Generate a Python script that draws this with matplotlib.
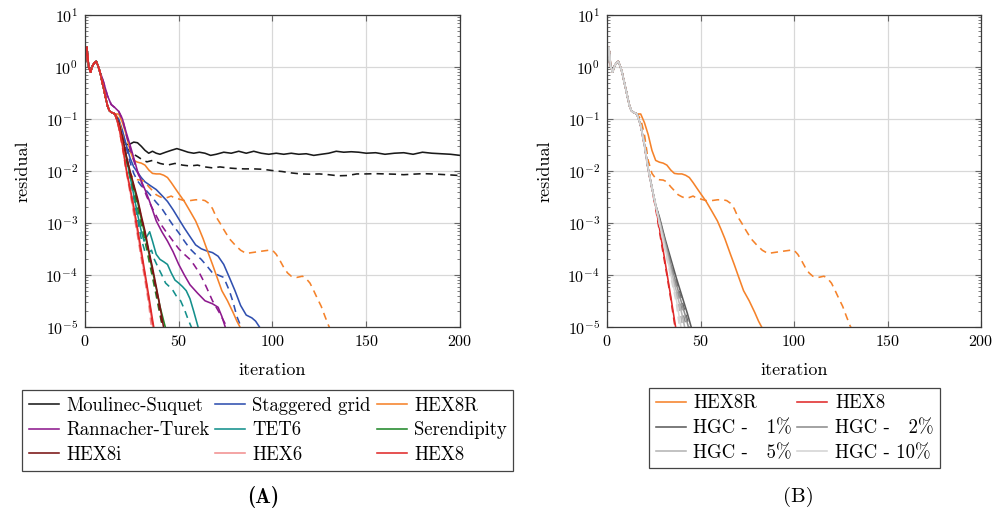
import matplotlib
matplotlib.use("Agg")
import matplotlib.pyplot as plt
from matplotlib.ticker import LogLocator, NullFormatter

plt.rcParams.update({
    "font.family": ["cmr10", "DejaVu Serif"],
    "mathtext.fontset": "cm",
    "axes.formatter.use_mathtext": True,
    "axes.unicode_minus": False,
})

# shared start of every run (iterations 0..16)
COMMON_IT = [0, 1, 2, 3, 4, 5, 6, 7, 8, 9, 10, 11, 12, 13, 14, 15, 16]
COMMON_RES = [1.1, 2.4, 1.0, 0.8, 1.05, 1.2, 1.28, 1.05, 0.8, 0.55, 0.38, 0.26, 0.18,
              0.145, 0.135, 0.13, 0.125]

# Moulinec-Suquet
MS_IT = [18, 20, 22, 24, 26, 28, 30, 32, 34, 36, 38, 40, 43, 46, 49, 52, 55, 58, 61, 64,
         67, 70, 74, 78, 82, 86, 90, 94, 98, 102, 106, 110, 114, 118, 122, 126, 130, 134,
         138, 142, 146, 150, 155, 160, 165, 170, 175, 180, 185, 190, 195, 200]
MS_RES = [0.075, 0.045, 0.032, 0.033, 0.036, 0.035, 0.030, 0.025, 0.022, 0.024,
          0.022, 0.021, 0.023, 0.025, 0.027, 0.025, 0.023, 0.022, 0.023, 0.022,
          0.020, 0.021, 0.023, 0.022, 0.024, 0.022, 0.024, 0.022, 0.021, 0.022,
          0.021, 0.022, 0.021, 0.0215, 0.020, 0.021, 0.022, 0.024, 0.023, 0.0235,
          0.023, 0.022, 0.0225, 0.021, 0.022, 0.0225, 0.021, 0.023, 0.022, 0.0215,
          0.021, 0.020]
MSD_IT = [18, 20, 22, 24, 26, 28, 30, 33, 36, 40, 44, 48, 52, 56, 60, 64, 68, 72, 76, 80,
          85, 90, 95, 100, 105, 110, 115, 120, 125, 130, 135, 140, 145, 150, 155, 160,
          165, 170, 175, 180, 185, 190, 195, 200]
MSD_RES = [0.07, 0.04, 0.028, 0.024, 0.021, 0.019, 0.017, 0.015, 0.016, 0.014,
           0.013, 0.014, 0.013, 0.0125, 0.013, 0.012, 0.0115, 0.012, 0.0115, 0.0112,
           0.011, 0.011, 0.0108, 0.0102, 0.0098, 0.0092, 0.0088, 0.0087, 0.0088, 0.0085,
           0.0081, 0.0082, 0.0088, 0.0088, 0.0089, 0.0088, 0.0087, 0.0085, 0.0087, 0.0089,
           0.0088, 0.0086, 0.0084, 0.0082]

# Staggered grid
SG_IT = [18, 20, 22, 24, 26, 28, 30, 32, 35, 38, 41, 44, 47, 50, 53, 56, 59, 62, 65, 68,
         71, 74, 77, 80, 83, 86, 89, 91, 93.5]
SG_RES = [0.1, 0.06, 0.032, 0.018, 0.012, 0.0095, 0.0075, 0.0062, 0.0052, 0.0044,
          0.0034, 0.0026, 0.0018, 0.0012, 0.0008, 0.00055, 0.00038, 0.00032, 0.00029, 0.00027,
          0.00023, 0.00016, 0.00009, 0.00005, 0.000026, 0.000017, 0.000015, 0.000013, 0.0000095]
SGD_IT = [18, 20, 22, 24, 26, 28, 30, 32, 35, 38, 41, 44, 47, 50, 53, 56, 59, 62, 65, 68,
          71, 74, 77, 79, 81, 83.5]
SGD_RES = [0.09, 0.055, 0.028, 0.015, 0.009, 0.0065, 0.0052, 0.0045, 0.0034, 0.0025,
           0.0019, 0.0013, 0.0009, 0.00065, 0.00045, 0.00032, 0.00025, 0.0002, 0.00015, 0.00011,
           0.0001, 0.00009, 0.00005, 0.00003, 0.000016, 0.0000095]

# HEX8R
R_IT = [18, 20, 22, 24, 26, 28, 30, 32, 34, 36, 38, 40, 42, 44, 46, 48, 50, 53, 56, 59,
        61, 63, 66, 68, 70, 73, 76, 79, 81, 83]
R_RES = [0.125, 0.085, 0.05, 0.025, 0.016, 0.0148, 0.0142, 0.013, 0.0105, 0.009,
         0.0088, 0.0088, 0.0083, 0.0075, 0.006, 0.0047, 0.0037, 0.0026, 0.0017, 0.0011,
         0.00075, 0.0005, 0.00025, 0.00016, 0.0001, 0.00005, 0.000032, 0.000019, 0.000013,
         0.0000095]
RD_IT = [18, 20, 22, 24, 26, 28, 30, 32, 34, 36, 38, 40, 42, 44, 46, 48, 50, 53, 56, 59,
         62, 64, 66, 68, 70, 72, 74, 77, 80, 83, 86, 89, 92, 95, 98, 100, 102, 104, 106, 108,
         110, 113, 116, 118, 120, 122, 124, 126, 128, 130, 131]
RD_RES = [0.1, 0.05, 0.016, 0.009, 0.0072, 0.0068, 0.0067, 0.0062, 0.005, 0.0042,
          0.0035, 0.0032, 0.003, 0.0031, 0.0033, 0.003, 0.0029, 0.0027, 0.0027, 0.0028,
          0.0028, 0.0027, 0.0024, 0.0019, 0.0013, 0.001, 0.00075, 0.0005, 0.00038, 0.0003,
          0.00026, 0.00027, 0.00028, 0.00029, 0.0003, 0.0003, 0.00025, 0.00019, 0.00014, 0.00011,
          0.000095, 0.00009, 0.000095, 0.000085, 0.00007, 0.00005, 0.000035, 0.000025, 0.000016,
          0.0000105, 0.000009]

# Rannacher-Turek (leaves the bundle early, from iteration 9)
RT_IT = [9, 10, 12, 14, 16, 18, 20, 22, 24, 26, 28, 30, 32, 34, 36, 38, 41, 44, 47, 50,
         53, 56, 60, 64, 68, 71, 73, 75]
RT_RES = [0.65, 0.5, 0.28, 0.19, 0.165, 0.14, 0.1, 0.055, 0.032, 0.018,
          0.01, 0.0065, 0.0044, 0.0029, 0.0018, 0.0011, 0.00068, 0.00045, 0.00028, 0.00016,
          0.0001, 0.000065, 0.000045, 0.000032, 0.000028, 0.000024, 0.000016, 0.0000095]
RTD_IT = [22, 24, 26, 28, 30, 33, 36, 40, 43, 46, 50, 53, 56, 58, 61, 63, 65, 68, 72, 76]
RTD_RES = [0.05, 0.028, 0.016, 0.0095, 0.0062, 0.0032, 0.0019, 0.001, 0.0007, 0.0005,
           0.00032, 0.00025, 0.0002, 0.00016, 0.00011, 0.00008, 0.000056, 0.000032,
           0.000018, 0.0000095]

# TET6
T_IT = [18, 20, 22, 24, 26, 28, 30, 31.5, 33, 34.5, 36, 38, 40, 42, 44, 46, 48, 50, 52, 54,
        56, 58, 60.5]
T_RES = [0.08, 0.04, 0.018, 0.008, 0.0035, 0.0015, 0.0007, 0.00045, 0.00055, 0.00068,
         0.00045, 0.00025, 0.0002, 0.00018, 0.00016, 0.00011, 0.00008, 0.00007, 0.00006,
         0.00005, 0.000035, 0.00002, 0.0000095]
TD_IT = [18, 20, 22, 24, 26, 28, 30, 32, 34, 35.5, 37, 39, 41, 43, 45, 47, 49, 51, 53, 55, 57]
TD_RES = [0.08, 0.04, 0.017, 0.0075, 0.003, 0.0012, 0.0005, 0.00028, 0.00027, 0.0003,
          0.0002, 0.00014, 0.0001, 0.00007, 0.00006, 0.00005, 0.000038, 0.000032, 0.000022,
          0.000014, 0.0000095]

# Serendipity
S_IT = [18, 20, 22, 24, 26, 28, 30, 32, 34, 36, 38, 40, 42, 43]
S_RES = [0.08, 0.042, 0.019, 0.0095, 0.005, 0.0026, 0.0012, 0.0006, 0.00027, 0.00012,
         0.000055, 0.000025, 0.000013, 0.0000095]
SD_IT = [18, 20, 22, 24, 26, 28, 30, 32, 34, 36, 38, 40, 41.5]
SD_RES = [0.078, 0.04, 0.017, 0.0085, 0.0042, 0.002, 0.00095, 0.00045, 0.0002, 0.00009,
          0.00004, 0.000017, 0.0000095]

# HEX8i
I_IT = [18, 20, 22, 24, 26, 28, 30, 32, 34, 36, 38, 40, 42]
I_RES = [0.085, 0.045, 0.02, 0.01, 0.0055, 0.003, 0.0014, 0.0007, 0.0003, 0.00014,
         0.00006, 0.000025, 0.0000095]
ID_IT = [18, 20, 22, 24, 26, 28, 30, 32, 34, 36, 38, 40, 41.5]
ID_RES = [0.083, 0.043, 0.019, 0.0095, 0.005, 0.0027, 0.0013, 0.00062, 0.00027, 0.00012,
          0.00005, 0.00002, 0.0000095]

# HEX6
H6_IT = [18, 20, 22, 24, 26, 28, 30, 32, 34, 36, 36.5]
H6_RES = [0.07, 0.03, 0.0105, 0.0042, 0.0017, 0.00065, 0.00024, 0.00009, 0.000032,
          0.000011, 0.0000085]
H6D_IT = [18, 20, 22, 24, 26, 28, 30, 32, 34, 35.5]
H6D_RES = [0.068, 0.028, 0.0098, 0.0039, 0.0015, 0.00058, 0.00021, 0.000078, 0.000028,
           0.0000095]

# HEX8
H8_IT = [18, 20, 22, 24, 26, 28, 30, 32, 34, 36, 37]
H8_RES = [0.075, 0.032, 0.011, 0.0048, 0.0021, 0.0008, 0.0003, 0.00011, 0.00004,
          0.000014, 0.0000085]
H8D_IT = [18, 20, 22, 24, 26, 28, 30, 32, 34, 36, 36.5]
H8D_RES = [0.072, 0.03, 0.0105, 0.0045, 0.0019, 0.0007, 0.00026, 0.0001, 0.000036,
           0.000012, 0.0000095]

# HGC runs follow HEX8 until iteration 26, then fan out
HGC_HEAD_IT = [18, 20, 22, 24, 26]
HGC_HEAD_RES = [0.075, 0.032, 0.011, 0.0048, 0.0022]
HGC1_IT = [28, 31, 34, 37, 40, 43, 45]
HGC1_RES = [1.3e-3, 5e-4, 2.1e-4, 8.9e-5, 4e-5, 1.8e-5, 1e-5]
HGC1D_IT = [28, 31, 34, 37, 40, 42, 44]
HGC1D_RES = [1.2e-3, 4.6e-4, 1.8e-4, 7.5e-5, 3.2e-5, 1.8e-5, 1e-5]
HGC2_IT = [28, 31, 34, 37, 40, 42, 43.5]
HGC2_RES = [1.2e-3, 4.4e-4, 1.7e-4, 6.8e-5, 2.8e-5, 1.6e-5, 1e-5]
HGC2D_IT = [28, 31, 34, 37, 40, 42.5]
HGC2D_RES = [1.15e-3, 4.1e-4, 1.5e-4, 5.8e-5, 2.2e-5, 1e-5]
HGC5_IT = [28, 31, 34, 37, 40, 41.5]
HGC5_RES = [1.1e-3, 3.9e-4, 1.35e-4, 5e-5, 1.8e-5, 1e-5]
HGC5D_IT = [28, 31, 34, 37, 39, 40.5]
HGC5D_RES = [1.05e-3, 3.6e-4, 1.2e-4, 4.2e-5, 2e-5, 1e-5]
HGC10_IT = [28, 31, 34, 37, 39.5]
HGC10_RES = [1.0e-3, 3.3e-4, 1.1e-4, 3.5e-5, 1e-5]
HGC10D_IT = [28, 31, 34, 37, 38.7]
HGC10D_RES = [9.5e-4, 3.0e-4, 9.5e-5, 3e-5, 1e-5]

C_MS, C_SG, C_R = "#1a1a1a", "#3050b0", "#f5822a"
C_RT, C_T, C_S = "#8e1a8e", "#14908c", "#22882a"
C_I, C_H6, C_H8 = "#7a1414", "#f29090", "#e02a2a"
C_HGC = {"1": "#5c5c5c", "2": "#8e8e8e", "5": "#b4b4b4", "10": "#d4d4d4"}
DASH = (0, (4.5, 3.2))
LW = 1.15


def trace(it, res, head_it=COMMON_IT, head_res=COMMON_RES):
    return list(head_it) + list(it), list(head_res) + list(res)


def draw(ax, it, res, color, dashed=False, label=None, **kw):
    (ln,) = ax.plot(it, res, color=color, lw=LW, ls=DASH if dashed else "-",
                    label=label, **kw)
    return ln


def style(ax):
    ax.set_yscale("log")
    ax.set_xlim(0, 200)
    ax.set_ylim(1e-5, 1e1)
    ax.set_xticks([0, 50, 100, 150, 200])
    ax.yaxis.set_major_locator(LogLocator(base=10, numticks=10))
    ax.yaxis.set_minor_locator(LogLocator(base=10, subs=range(2, 10), numticks=30))
    ax.yaxis.set_minor_formatter(NullFormatter())
    ax.grid(True, which="major", color="#d8d8d8", lw=0.9)
    ax.set_axisbelow(True)
    ax.tick_params(which="both", direction="in", top=True, right=True, color="#666666")
    ax.tick_params(which="major", length=4, width=0.8, labelsize=11.5, pad=5)
    ax.tick_params(which="minor", length=2.3, width=0.6)
    for s in ax.spines.values():
        s.set_color("#3a3a3a")
        s.set_linewidth(0.9)
    ax.set_xlabel("iteration", fontsize=13, labelpad=10)
    ax.set_ylabel("residual", fontsize=13, labelpad=11)


fig = plt.figure(figsize=(9.95, 5.11), dpi=100)
ax_a = fig.add_axes([0.0854, 0.360, 0.3769, 0.6106])
ax_b = fig.add_axes([0.6101, 0.360, 0.3759, 0.6106])

rt_head_it = COMMON_IT[:9] + RT_IT[:7]
rt_head_res = COMMON_RES[:9] + RT_RES[:7]

# (A) all discretisations, solid and dashed variants
h = {}
h["ms"] = draw(ax_a, *trace(MS_IT, MS_RES), C_MS, label="Moulinec-Suquet")
draw(ax_a, *trace(MSD_IT, MSD_RES), C_MS, dashed=True)
h["sg"] = draw(ax_a, *trace(SG_IT, SG_RES), C_SG, label="Staggered grid")
draw(ax_a, *trace(SGD_IT, SGD_RES), C_SG, dashed=True)
h["r"] = draw(ax_a, *trace(R_IT, R_RES), C_R, label="HEX8R")
draw(ax_a, *trace(RD_IT, RD_RES), C_R, dashed=True)
h["rt"] = draw(ax_a, *trace(RT_IT, RT_RES, COMMON_IT[:9], COMMON_RES[:9]), C_RT,
               label="Rannacher-Turek")
draw(ax_a, *trace(RTD_IT, RTD_RES, rt_head_it, rt_head_res), C_RT, dashed=True)
h["t"] = draw(ax_a, *trace(T_IT, T_RES), C_T, label="TET6")
draw(ax_a, *trace(TD_IT, TD_RES), C_T, dashed=True)
h["s"] = draw(ax_a, *trace(S_IT, S_RES), C_S, label="Serendipity")
draw(ax_a, *trace(SD_IT, SD_RES), C_S, dashed=True)
h["i"] = draw(ax_a, *trace(I_IT, I_RES), C_I, label="HEX8i")
draw(ax_a, *trace(ID_IT, ID_RES), C_I, dashed=True)
h["h6"] = draw(ax_a, *trace(H6_IT, H6_RES), C_H6, label="HEX6")
draw(ax_a, *trace(H6D_IT, H6D_RES), C_H6, dashed=True)
h["h8"] = draw(ax_a, *trace(H8_IT, H8_RES), C_H8, label="HEX8")
draw(ax_a, *trace(H8D_IT, H8D_RES), C_H8, dashed=True)
style(ax_a)

# (B) HEX8R / HEX8 against the HGC variants
g = {}
g["r"] = draw(ax_b, *trace(R_IT, R_RES), C_R, label="HEX8R")
draw(ax_b, *trace(RD_IT, RD_RES), C_R, dashed=True)
g["h8"] = draw(ax_b, *trace(H8_IT, H8_RES), C_H8, label="HEX8")
draw(ax_b, *trace(H8D_IT, H8D_RES), C_H8, dashed=True)
hgc_head_it = COMMON_IT + HGC_HEAD_IT
hgc_head_res = COMMON_RES + HGC_HEAD_RES
hgc_runs = [("1", HGC1_IT, HGC1_RES, HGC1D_IT, HGC1D_RES),
            ("2", HGC2_IT, HGC2_RES, HGC2D_IT, HGC2D_RES),
            ("5", HGC5_IT, HGC5_RES, HGC5D_IT, HGC5D_RES),
            ("10", HGC10_IT, HGC10_RES, HGC10D_IT, HGC10D_RES)]
for pct, it, res, itd, resd in hgc_runs:
    lab = "HGC - " + ("  " if len(pct) == 1 else "") + pct + "%"
    g[pct] = draw(ax_b, *trace(it, res, hgc_head_it, hgc_head_res), C_HGC[pct], label=lab)
    draw(ax_b, *trace(itd, resd, hgc_head_it, hgc_head_res), C_HGC[pct], dashed=True)
style(ax_b)

leg_kw = dict(loc="upper left", fontsize=13.5, frameon=True, fancybox=False,
              edgecolor="#444444", framealpha=1, handlelength=1.6, handletextpad=0.4,
              columnspacing=0.3, labelspacing=0.36, borderpad=0.35, borderaxespad=0)

order_a = ["ms", "rt", "i", "sg", "t", "h6", "r", "s", "h8"]
leg_a = fig.legend([h[k] for k in order_a], [h[k].get_label() for k in order_a], ncol=3,
                   bbox_to_anchor=(22 / 995, 1 - 390 / 511), **leg_kw)
leg_a.get_frame().set_linewidth(0.9)

order_b = ["r", "1", "5", "h8", "2", "10"]
leg_b = fig.legend([g[k] for k in order_b], [g[k].get_label() for k in order_b], ncol=2,
                   bbox_to_anchor=(649 / 995, 1 - 388 / 511), **leg_kw)
leg_b.get_frame().set_linewidth(0.9)

fig.text(263 / 995, 1 - 497 / 511, "(A)", ha="center", va="center", fontsize=15,
         family=["cmb10", "DejaVu Serif"])
fig.text(798 / 995, 1 - 497 / 511, "(B)", ha="center", va="center", fontsize=15)

fig.savefig("out.png", dpi=100)
